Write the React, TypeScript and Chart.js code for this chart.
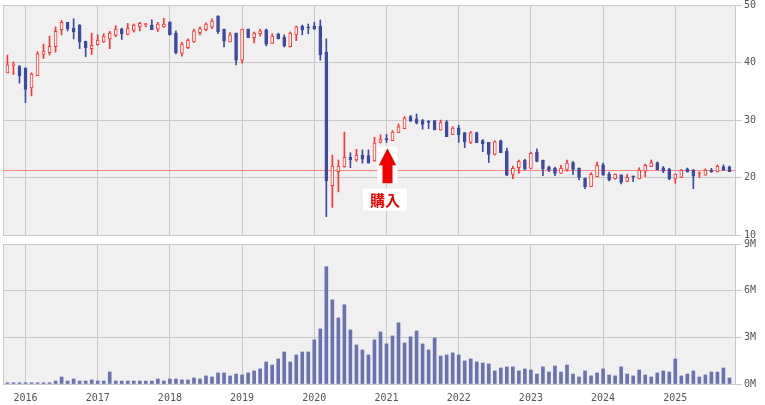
import React, { useEffect, useRef } from "react";
import { Chart, registerables } from "chart.js";
Chart.register(...registerables);

// ---- data (monthly, Oct 2015 .. Oct 2025) ----
const START_YEAR = 2015;
const START_MONTH = 10;

const OPEN = [
  38.2, 39.5, 39.3, 39.0, 35.6, 37.7, 41.4, 41.7, 42.75, 45.7,
  47.0, 46.0, 46.5, 43.7, 42.4, 43.1, 43.6, 44.1, 44.7, 45.8,
  44.9, 45.6, 46.2, 46.6, 46.5, 45.8, 46.2, 47.0, 45.1, 41.6,
  42.6, 43.6, 45.2, 45.7, 46.2, 48.1, 45.8, 43.6, 45.1, 40.4,
  45.8, 44.3, 45.0, 45.7, 43.3, 45.0, 44.4, 42.75, 44.8, 46.35,
  46.1, 46.35, 46.35, 41.8, 18.6, 21.0, 21.9, 23.5, 23.05, 23.9,
  23.8, 22.9, 26.1, 26.7, 26.4, 27.8, 28.5, 30.6, 30.2, 29.9,
  29.7, 29.9, 28.25, 29.7, 27.45, 28.6, 27.8, 26.1, 27.8, 26.4,
  26.1, 24.0, 26.4, 24.6, 20.55, 21.7, 23.05, 21.6, 24.4, 23.05,
  21.8, 21.65, 20.7, 21.4, 22.6, 21.6, 19.9, 18.4, 20.15, 22.2,
  20.6, 19.8, 20.45, 19.3, 20.2, 19.75, 21.1, 21.9, 22.6, 21.7,
  21.4, 19.75, 20.0, 21.5, 21.3, 20.7, 20.4, 21.25, 20.95, 21.85,
  21.85,
];
const HIGH = [
  41.3, 40.1, 39.5, 39.1, 38.2, 41.9, 43.2, 44.6, 46.2, 47.3,
  47.0, 47.6, 46.6, 43.7, 45.1, 44.8, 45.0, 45.4, 46.4, 46.0,
  46.8, 46.7, 47.0, 46.8, 47.4, 47.0, 47.7, 47.1, 45.5, 43.5,
  44.1, 45.8, 46.2, 46.9, 47.6, 48.1, 45.8, 45.2, 45.1, 45.8,
  45.8, 45.3, 45.8, 45.8, 45.0, 45.1, 44.8, 45.3, 46.35, 46.5,
  46.7, 47.0, 47.4, 44.1, 23.9, 23.05, 27.9, 24.3, 24.9, 24.8,
  24.8, 27.0, 27.45, 27.5, 28.15, 29.3, 30.6, 30.8, 31.05, 30.1,
  29.9, 29.9, 30.0, 29.9, 28.85, 29.1, 27.8, 28.0, 27.9, 26.6,
  26.1, 26.4, 26.5, 25.1, 22.0, 23.05, 23.2, 24.4, 25.0, 23.05,
  22.0, 21.8, 22.1, 23.05, 22.8, 21.7, 19.9, 20.85, 22.7, 22.5,
  20.95, 20.6, 20.45, 20.55, 20.25, 21.7, 22.35, 23.05, 22.7, 21.9,
  21.6, 20.6, 21.4, 21.65, 21.4, 21.0, 21.5, 21.6, 22.2, 22.2,
  22.0,
];
const LOW = [
  38.2, 37.9, 36.4, 33.0, 34.2, 37.7, 40.7, 41.3, 41.8, 44.8,
  45.5, 44.1, 42.4, 41.0, 41.4, 43.0, 43.5, 42.4, 44.5, 44.0,
  44.8, 45.3, 45.5, 46.2, 45.7, 45.4, 46.1, 44.8, 41.5, 41.1,
  42.4, 43.5, 44.8, 45.5, 45.9, 45.0, 42.7, 43.6, 39.6, 39.9,
  44.3, 43.4, 44.6, 42.9, 43.3, 44.1, 42.7, 42.7, 43.8, 44.8,
  45.0, 45.8, 40.4, 13.2, 14.8, 17.5, 21.8, 21.7, 22.8, 22.5,
  22.5, 22.8, 26.0, 26.1, 26.4, 27.8, 28.5, 29.75, 29.3, 28.4,
  28.5, 28.25, 28.25, 27.1, 27.45, 26.1, 25.2, 25.9, 26.05, 24.5,
  22.6, 23.9, 24.3, 20.3, 19.8, 20.7, 21.3, 21.5, 22.7, 20.3,
  21.0, 20.3, 20.7, 21.1, 20.5, 19.6, 18.05, 18.4, 20.15, 20.4,
  19.4, 19.7, 18.9, 19.3, 19.3, 19.75, 20.15, 21.9, 21.3, 20.85,
  19.6, 19.0, 20.0, 20.95, 18.05, 20.0, 20.4, 20.9, 20.95, 21.2,
  21.0,
];
const CLOSE = [
  39.6, 39.6, 37.7, 35.3, 38.0, 41.5, 42.0, 42.8, 45.4, 47.0,
  45.9, 45.3, 43.6, 42.6, 43.0, 43.9, 44.6, 45.1, 45.8, 45.0,
  45.9, 46.5, 46.8, 46.7, 45.7, 46.7, 46.7, 44.8, 41.7, 43.2,
  43.9, 45.5, 45.9, 46.7, 47.2, 45.3, 43.7, 44.8, 40.4, 45.8,
  44.3, 45.1, 45.5, 43.2, 44.6, 44.1, 42.9, 45.1, 46.2, 45.65,
  46.0, 45.8, 41.3, 19.4, 22.0, 22.0, 23.5, 23.05, 23.9, 23.2,
  22.5, 26.0, 26.6, 26.6, 27.9, 28.8, 30.35, 29.8, 29.5, 29.25,
  29.6, 28.3, 29.55, 27.1, 28.6, 27.45, 26.2, 27.8, 26.05, 25.9,
  24.0, 26.2, 24.3, 20.4, 21.6, 22.8, 21.5, 24.2, 22.8, 21.5,
  21.3, 20.7, 21.6, 22.5, 21.4, 20.0, 18.4, 20.55, 22.1, 20.4,
  19.6, 20.55, 19.15, 20.0, 20.1, 21.3, 22.1, 22.6, 21.3, 21.1,
  19.75, 20.6, 21.3, 20.95, 20.25, 20.85, 21.3, 20.95, 21.95, 21.3,
  21.0,
];
// volume in millions of shares
const VOLUME = [
  0.08, 0.08, 0.08, 0.08, 0.08, 0.08, 0.08, 0.08, 0.19, 0.45,
  0.19, 0.32, 0.19, 0.19, 0.26, 0.19, 0.19, 0.77, 0.19, 0.19,
  0.19, 0.19, 0.19, 0.19, 0.19, 0.32, 0.19, 0.32, 0.32, 0.26,
  0.26, 0.39, 0.32, 0.52, 0.45, 0.71, 0.71, 0.52, 0.64, 0.58,
  0.71, 0.84, 0.97, 1.42, 1.22, 1.61, 2.06, 1.42, 1.87, 2.06,
  2.06, 2.84, 3.54, 7.54, 5.41, 4.25, 5.09, 3.48, 2.51, 2.19,
  1.87, 2.84, 3.35, 2.58, 3.09, 3.93, 2.64, 3.03, 3.41, 2.58,
  2.19, 2.96, 1.80, 1.87, 2.0, 1.87, 1.48, 1.61, 1.42, 1.35,
  1.29, 0.84, 1.03, 1.10, 1.10, 0.84, 0.97, 0.90, 0.64, 1.10,
  0.77, 1.16, 0.77, 1.22, 0.64, 0.45, 0.84, 0.52, 0.71, 0.97,
  0.58, 0.52, 1.10, 0.64, 0.52, 0.90, 0.58, 0.45, 0.71, 0.84,
  0.77, 1.61, 0.52, 0.64, 0.84, 0.45, 0.58, 0.77, 0.77, 1.03,
  0.39,
];

const YEAR_TICKS = [2016, 2017, 2018, 2019, 2020, 2021, 2022, 2023, 2024, 2025];
const PRICE_TICKS = [10, 20, 30, 40, 50];
const VOLUME_TICKS = [0, 3, 6, 9];
const REF_PRICE = 21.3;
const BUY_DATE = "2021-01";
const BUY_PRICE = 25.1;
const BUY_LABEL = "購入";

// ---- styling ----
const UP = "#ff3333";
const DOWN = "#3c4aa0";
const VOL = "#6b72b0";
const GRID = "#c8c8c8";
const BG = "#f0f0f0";
const TEXT = "#555555";
const REF = "#ff8585";
const FONT = { family: "'DejaVu Sans Mono', monospace", size: 10 };
const X_MIN = 2015.6884;
const X_MAX = 2025.8269;
const PAD = 12;

const MONTH_LABELS = OPEN.map((_, i) => {
  const m = START_MONTH - 1 + i;
  const y = START_YEAR + Math.floor(m / 12);
  return `${y}-${String((m % 12) + 1).padStart(2, "0")}`;
});
const toX = (label: string) => {
  const [y, m] = label.split("-").map(Number);
  return y + (m - 1) / 12;
};
const XS = MONTH_LABELS.map(toX);

const panelPlugin = {
  id: "panel",
  beforeDraw(chart: any) {
    const { ctx, chartArea: a } = chart;
    ctx.save();
    ctx.fillStyle = BG;
    ctx.fillRect(a.left, a.top, a.right - a.left, a.bottom - a.top);
    ctx.restore();
  },
  beforeDatasetsDraw(chart: any) {
    const { ctx, chartArea: a } = chart;
    ctx.save();
    ctx.strokeStyle = GRID;
    ctx.lineWidth = 1;
    ctx.beginPath();
    const x = Math.round(a.left) + 0.5;
    ctx.moveTo(x, a.top);
    ctx.lineTo(x, a.bottom);
    ctx.stroke();
    ctx.restore();
  },
};

const refLinePlugin = {
  id: "refLine",
  beforeDatasetsDraw(chart: any) {
    const { ctx, chartArea: a, scales } = chart;
    const y = Math.round(scales.y.getPixelForValue(REF_PRICE)) + 0.5;
    ctx.save();
    ctx.strokeStyle = REF;
    ctx.lineWidth = 1;
    ctx.beginPath();
    ctx.moveTo(a.left, y);
    ctx.lineTo(a.right, y);
    ctx.stroke();
    ctx.restore();
  },
};

const buyPlugin = {
  id: "buy",
  afterDatasetsDraw(chart: any) {
    const { ctx, scales } = chart;
    const cx = scales.x.getPixelForValue(toX(BUY_DATE)) + 1;
    const top = scales.y.getPixelForValue(BUY_PRICE);
    ctx.save();
    ctx.fillStyle = "#ffffff";
    ctx.fillRect(cx - 10, top - 1.5, 20, 37);
    ctx.fillStyle = "#f20000";
    ctx.beginPath();
    ctx.moveTo(cx, top);
    ctx.lineTo(cx + 8.7, top + 17);
    ctx.lineTo(cx + 5, top + 17);
    ctx.lineTo(cx + 5, top + 35);
    ctx.lineTo(cx - 5, top + 35);
    ctx.lineTo(cx - 5, top + 17);
    ctx.lineTo(cx - 8.7, top + 17);
    ctx.closePath();
    ctx.fill();
    ctx.fillStyle = "#ffffff";
    ctx.fillRect(cx - 24.5, top + 40.5, 44, 22);
    ctx.fillStyle = "#ee0000";
    ctx.font = "bold 15px 'Noto Sans CJK JP', sans-serif";
    ctx.textAlign = "center";
    ctx.textBaseline = "middle";
    ctx.fillText(BUY_LABEL, cx - 2.5, top + 52);
    ctx.restore();
  },
};

const xAxis = (showLabels: boolean) => ({
  type: "linear" as const,
  min: X_MIN,
  max: X_MAX,
  offset: false,
  afterBuildTicks: (axis: any) => {
    axis.ticks = YEAR_TICKS.map((v) => ({ value: v }));
  },
  afterFit: (axis: any) => {
    axis.height = showLabels ? 21 : 0;
  },
  ticks: {
    display: showLabels,
    autoSkip: false,
    maxRotation: 0,
    padding: 8,
    font: FONT,
    color: TEXT,
    callback: (v: any) => String(v),
  },
  grid: { color: GRID, drawTicks: false, offset: false },
  border: { color: GRID },
});

const yAxis = (min: number, max: number, ticks: number[], fmt: (v: number) => string) => ({
  type: "linear" as const,
  position: "right" as const,
  min,
  max,
  afterBuildTicks: (axis: any) => {
    axis.ticks = ticks.map((v) => ({ value: v }));
  },
  afterFit: (axis: any) => {
    axis.width = 30;
  },
  ticks: { padding: 2, font: FONT, color: TEXT, callback: (v: any) => fmt(Number(v)) },
  grid: { color: GRID, tickLength: 7, drawTicks: true },
  border: { color: GRID },
});

export default function App() {
  const topRef = useRef<HTMLCanvasElement>(null);
  const botRef = useRef<HTMLCanvasElement>(null);

  useEffect(() => {
    const up = OPEN.map((o, i) => CLOSE[i] >= o);
    const priceChart = new Chart(topRef.current as HTMLCanvasElement, {
      type: "bar",
      data: {
        datasets: [
          {
            label: "body",
            data: XS.map((x, i) => ({ x, y: [OPEN[i], CLOSE[i]] })) as any,
            backgroundColor: up.map((u) => (u ? "#ffffff" : DOWN)),
            borderColor: up.map((u) => (u ? UP : DOWN)),
            borderWidth: 1,
            borderSkipped: false,
            barThickness: 3,
            minBarLength: 1,
            grouped: false,
            order: 0,
          } as any,
          {
            label: "wick",
            data: XS.map((x, i) => ({ x, y: [LOW[i], HIGH[i]] })) as any,
            backgroundColor: up.map((u) => (u ? UP : DOWN)),
            borderWidth: 0,
            barThickness: 1,
            grouped: false,
            order: 1,
          } as any,
        ],
      },
      options: {
        responsive: false,
        animation: false,
        events: [],
        layout: { padding: { left: 3, top: PAD, right: 0, bottom: PAD } },
        plugins: { legend: { display: false }, tooltip: { enabled: false } },
        scales: {
          x: xAxis(false) as any,
          y: yAxis(10, 50, PRICE_TICKS, (v) => String(v)) as any,
        },
      },
      plugins: [panelPlugin, refLinePlugin, buyPlugin],
    });

    const volChart = new Chart(botRef.current as HTMLCanvasElement, {
      type: "bar",
      data: {
        datasets: [
          {
            label: "volume",
            data: XS.map((x, i) => ({ x, y: VOLUME[i] })) as any,
            backgroundColor: VOL,
            borderWidth: 0,
            barThickness: 3,
            grouped: false,
          } as any,
        ],
      },
      options: {
        responsive: false,
        animation: false,
        events: [],
        layout: { padding: { left: 3, top: PAD, right: 0, bottom: 0 } },
        plugins: { legend: { display: false }, tooltip: { enabled: false } },
        scales: {
          x: xAxis(true) as any,
          y: yAxis(0, 9, VOLUME_TICKS, (v) => `${v}M`) as any,
        },
      },
      plugins: [panelPlugin],
    });

    return () => {
      priceChart.destroy();
      volChart.destroy();
    };
  }, []);

  // top panel plot: y 5..235 ; bottom panel plot: y 244..384
  return (
    <div style={{ position: "fixed", left: 0, top: 0, width: 765, height: 405, background: "#ffffff", overflow: "hidden" }}>
      <canvas ref={topRef} width={765} height={254} style={{ position: "absolute", left: 0, top: -7 }} />
      <canvas ref={botRef} width={765} height={173} style={{ position: "absolute", left: 0, top: 232 }} />
    </div>
  );
}
